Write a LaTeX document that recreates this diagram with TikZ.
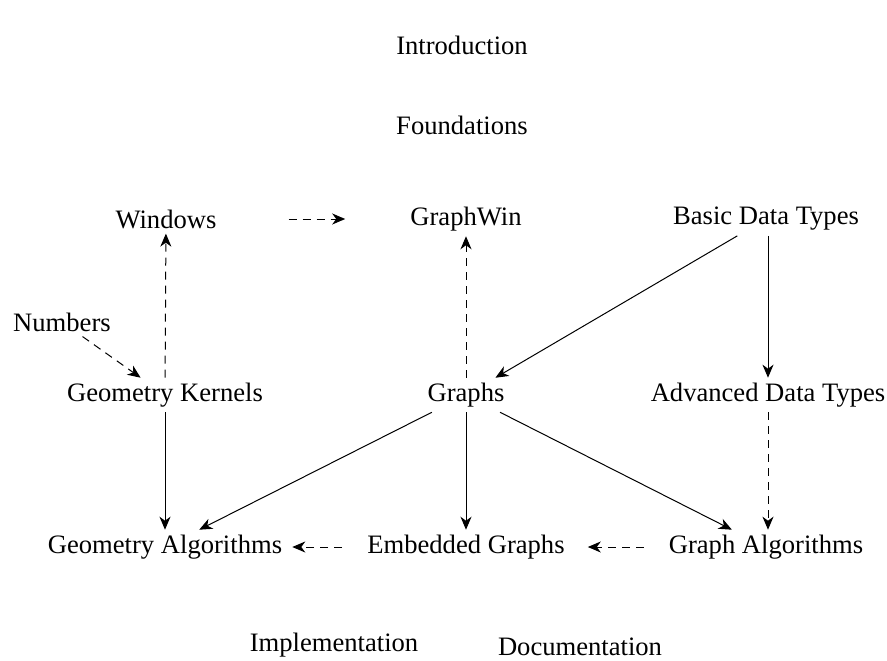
\documentclass[tikz,border=0pt]{standalone}
\usepackage{fontspec}
\setmainfont{Liberation Serif}
\usetikzlibrary{arrows.meta}

\begin{document}
\begin{tikzpicture}[x=1pt, y=-1pt,
		part/.style={font=\fontsize{26.6}{30}\selectfont, inner sep=5pt},
		dep/.style={-{Stealth[length=13pt, width=11pt, inset=4pt]}, line width=1pt},
		weak/.style={dep, dash pattern=on 8pt off 6pt}]
		\useasboundingbox (0, 0) rectangle (887, 661);
		
		% levels
		\node[part] (intro) at (462, 45) {Introduction};
		\node[part] (found) at (462, 125) {Foundations};
		
		\node[part] (windows) at (166, 219) {Windows};
		\node[part] (graphwin) at (466, 219) {GraphWin};
		\node[part] (basic) at (766, 219) {Basic Data Types};
		
		\node[part] (numbers) at (62, 322) {Numbers};
		
		\node[part] (kernels) at (165, 395) {Geometry Kernels};
		\node[part] (graphs) at (466, 395) {Graphs};
		\node[part] (advanced) at (768, 395) {Advanced Data Types};
		
		\node[part] (geoalg) at (165, 547) {Geometry Algorithms};
		\node[part] (embedded) at (466, 547) {Embedded Graphs};
		\node[part] (graphalg) at (766, 547) {Graph Algorithms};
		
		\node[part] (impl) at (334, 645) {Implementation};
		\node[part] (doc) at (580, 647) {Documentation};
		
		% solid dependencies
		\draw[dep] (basic) -- (graphs);
		\draw[dep] (basic.south -| advanced) -- (advanced);
		\draw[dep] (kernels) -- (geoalg);
		\draw[dep] (graphs) -- (geoalg);
		\draw[dep] (graphs) -- (embedded);
		\draw[dep] (graphs) -- (graphalg);
		
		% dashed dependencies
		\draw[weak] (kernels) -- (windows);
		\draw[weak] (graphs) -- (graphwin);
		\draw[weak] (numbers) -- (kernels);
		\draw[weak] (advanced) -- (advanced |- graphalg.north);
		\draw[weak, shorten <=67pt, shorten >=60pt] (windows) -- (graphwin);
		\draw[weak, shorten <=20pt, shorten >=5pt] (embedded) -- (geoalg);
		\draw[weak, shorten <=20pt, shorten >=18pt] (graphalg) -- (embedded);
		
	\end{tikzpicture}
\end{document}
